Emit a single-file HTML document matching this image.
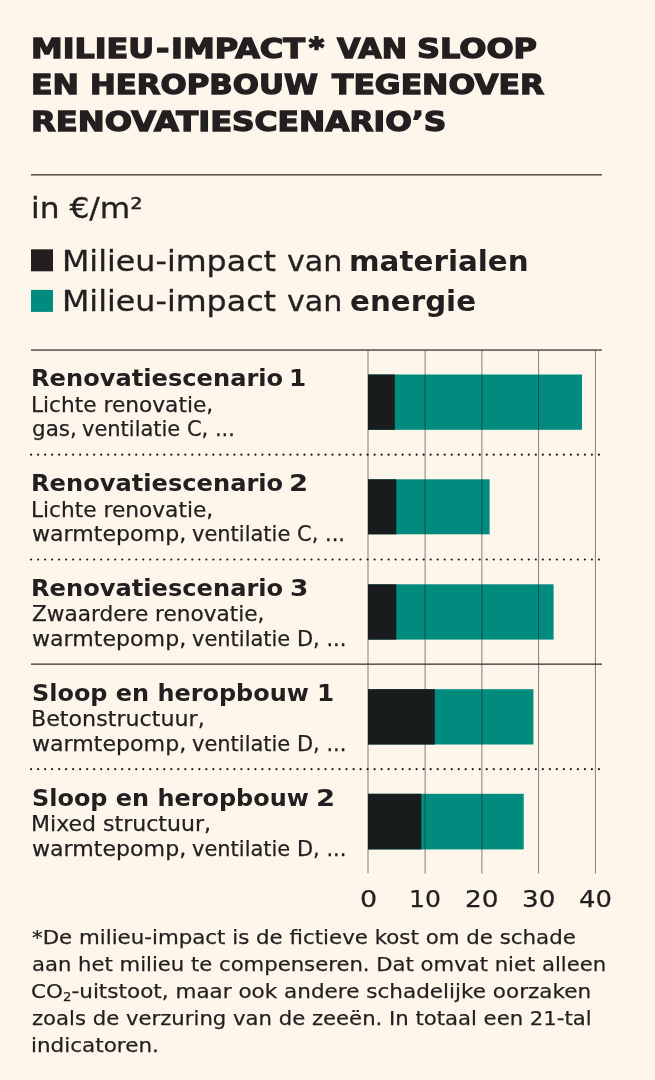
<!DOCTYPE html>
<html lang="nl">
<head>
<meta charset="utf-8">
<title>Milieu-impact van sloop en heropbouw tegenover renovatiescenario's</title>
<style>
html,body{margin:0;padding:0;}
body{width:655px;height:1080px;background:#fef6ea;position:relative;overflow:hidden;color:#231f20;
  font-family:"DejaVu Sans","Liberation Sans",sans-serif;}
h1,h2,p,section,footer,header{margin:0;padding:0;font-size:inherit;font-weight:inherit;display:block;}
.t{position:absolute;white-space:nowrap;line-height:1;margin:0;transform-origin:0 0;font-weight:normal;}
sub{font-size:0.62em;vertical-align:baseline;position:relative;top:0.3em;line-height:0;}
svg{position:absolute;left:0;top:0;}
.h{font-size:27.2px;font-weight:bold;-webkit-text-stroke:1.3px #231f20;}
.hs{font-size:27.2px;font-weight:bold;-webkit-text-stroke:1.8px #231f20;}
.b{font-size:23.7px;font-weight:bold;}
.l{font-size:21.4px;font-weight:normal;-webkit-text-stroke:0.25px #231f20;}
.g{font-size:28.2px;font-weight:normal;-webkit-text-stroke:0.3px #231f20;}
.gb{font-size:28.2px;font-weight:bold;}
.u{font-size:28.6px;font-weight:normal;-webkit-text-stroke:0.3px #231f20;}
.f{font-size:20.0px;font-weight:normal;-webkit-text-stroke:0.25px #231f20;}
.ax{font-size:22.8px;font-weight:normal;-webkit-text-stroke:0.25px #231f20;}
</style>
</head>
<body>
<header><h1>
<span class="t h" style="left:31.24px;top:35.20px;transform:scaleX(1.1699)">MILIEU</span><span class="t h" style="left:155.89px;top:35.20px;transform:scaleX(1.1832)">-</span><span class="t h" style="left:171.23px;top:35.20px;transform:scaleX(1.1746)">IMPACT</span><span class="t hs" style="left:309.02px;top:33.90px;transform:scaleX(1.0541)">*</span>
<span class="t h" style="left:337.25px;top:35.20px;transform:scaleX(1.1129)">VAN</span>
<span class="t h" style="left:416.61px;top:35.20px;transform:scaleX(1.1755)">SLOOP</span>
<span class="t h" style="left:31.25px;top:71.40px;transform:scaleX(1.1611)">EN</span>
<span class="t h" style="left:89.60px;top:71.40px;transform:scaleX(1.1329)">HEROPBOUW</span>
<span class="t h" style="left:331.76px;top:71.40px;transform:scaleX(1.1551)">TEGENOVER</span>
<span class="t h" style="left:31.31px;top:107.70px;transform:scaleX(1.1835)">RENOVATIE</span><span class="t h" style="left:231.94px;top:107.70px;transform:scaleX(1.1528)">SCENARIO’S</span>
</h1></header>
<section class="legend">
<span class="t u" style="left:31.36px;top:194.00px;transform:scaleX(1.0933)">in €/m²</span>
<span class="t g" style="left:62.17px;top:248.00px;transform:scaleX(1.1254)">Milieu-impact</span>
<span class="t g" style="left:286.69px;top:248.00px;transform:scaleX(1.0697)">van</span>
<span class="t gb" style="left:349.25px;top:248.00px;transform:scaleX(1.0423)">materialen</span>
<span class="t g" style="left:62.17px;top:288.40px;transform:scaleX(1.1254)">Milieu-impact</span>
<span class="t g" style="left:286.69px;top:288.40px;transform:scaleX(1.0697)">van</span>
<span class="t gb" style="left:350.30px;top:288.40px;transform:scaleX(1.0405)">energie</span>
</section>
<svg width="655" height="1080" viewBox="0 0 655 1080">
  <rect x="31" y="174.2" width="571" height="1.3" fill="#3c3532"/>
  <rect x="31" y="249.3" width="22" height="22" fill="#231f20"/>
  <rect x="31" y="289.9" width="22" height="22" fill="#008b7f"/>
  <g>
    <rect x="368" y="374.5" width="214" height="55.3" fill="#008b7f"/>
    <rect x="368" y="374.5" width="26.8" height="55.3" fill="#181c1c"/>
    <rect x="368" y="479.3" width="121.6" height="55" fill="#008b7f"/>
    <rect x="368" y="479.3" width="28.3" height="55" fill="#181c1c"/>
    <rect x="368" y="584.3" width="185.6" height="55.3" fill="#008b7f"/>
    <rect x="368" y="584.3" width="28.3" height="55.3" fill="#181c1c"/>
    <rect x="368" y="689.2" width="165.4" height="55.3" fill="#008b7f"/>
    <rect x="368" y="689.2" width="66.8" height="55.3" fill="#181c1c"/>
    <rect x="368" y="793.8" width="155.7" height="55.6" fill="#008b7f"/>
    <rect x="368" y="793.8" width="53.3" height="55.6" fill="#181c1c"/>
  </g>
  <g fill="#1d1d1b" fill-opacity="0.55">
    <rect x="367.5" y="350" width="1" height="523.5"/>
    <rect x="424.6" y="350" width="1" height="523.5"/>
    <rect x="481.4" y="350" width="1" height="523.5"/>
    <rect x="538.1" y="350" width="1" height="523.5"/>
    <rect x="594.9" y="350" width="1" height="523.5"/>
  </g>
  <rect x="31" y="349.4" width="571" height="1.3" fill="#3a3735"/>
  <rect x="31" y="663.5" width="571" height="1.3" fill="#3a3735"/>
  <g stroke="#1d1d1b" stroke-width="2.2" stroke-linecap="round" stroke-dasharray="0 7.01" fill="none">
    <line x1="31.1" y1="454.7" x2="600" y2="454.7"/>
    <line x1="31.1" y1="559.5" x2="600" y2="559.5"/>
    <line x1="31.1" y1="769.2" x2="600" y2="769.2"/>
  </g>
</svg>
<section class="labels">
<span class="t b" style="left:31.11px;top:367.20px;transform:scaleX(1.0190)">Renovatiescenario</span>
<span class="t b" style="left:289.34px;top:367.20px;transform:scaleX(1.0417)">1</span>
<span class="t l" style="left:31.20px;top:393.60px;transform:scaleX(1.0136)">Lichte renovatie,</span>
<span class="t l" style="left:31.77px;top:418.40px;transform:scaleX(1.0048)">gas,</span>
<span class="t l" style="left:81.99px;top:418.40px;transform:scaleX(0.9801)">ventilatie C, ...</span>
<span class="t b" style="left:31.11px;top:472.10px;transform:scaleX(1.0190)">Renovatiescenario</span>
<span class="t b" style="left:289.18px;top:472.10px;transform:scaleX(1.1600)">2</span>
<span class="t l" style="left:31.20px;top:498.50px;transform:scaleX(1.0136)">Lichte renovatie,</span>
<span class="t l" style="left:32.20px;top:523.30px;transform:scaleX(1.0328)">warmtepomp,</span>
<span class="t l" style="left:191.79px;top:523.30px;transform:scaleX(0.9808)">ventilatie C, ...</span>
<span class="t b" style="left:31.11px;top:577.00px;transform:scaleX(1.0190)">Renovatiescenario</span>
<span class="t b" style="left:289.83px;top:577.00px;transform:scaleX(1.1154)">3</span>
<span class="t l" style="left:32.22px;top:603.40px;transform:scaleX(1.0103)">Zwaardere renovatie,</span>
<span class="t l" style="left:32.20px;top:628.20px;transform:scaleX(1.0328)">warmtepomp,</span>
<span class="t l" style="left:191.79px;top:628.20px;transform:scaleX(0.9803)">ventilatie D, ...</span>
<span class="t b" style="left:31.63px;top:681.90px;transform:scaleX(1.0105)">Sloop en heropbouw</span>
<span class="t b" style="left:316.84px;top:681.90px;transform:scaleX(1.0417)">1</span>
<span class="t l" style="left:31.16px;top:708.30px;transform:scaleX(1.0363)">Betonstructuur,</span>
<span class="t l" style="left:32.20px;top:733.10px;transform:scaleX(1.0328)">warmtepomp,</span>
<span class="t l" style="left:191.79px;top:733.10px;transform:scaleX(0.9803)">ventilatie D, ...</span>
<span class="t b" style="left:31.63px;top:786.80px;transform:scaleX(1.0105)">Sloop en heropbouw</span>
<span class="t b" style="left:315.98px;top:786.80px;transform:scaleX(1.1600)">2</span>
<span class="t l" style="left:31.17px;top:813.20px;transform:scaleX(1.0307)">Mixed structuur,</span>
<span class="t l" style="left:32.20px;top:838.00px;transform:scaleX(1.0328)">warmtepomp,</span>
<span class="t l" style="left:191.79px;top:838.00px;transform:scaleX(0.9803)">ventilatie D, ...</span>
</section>
<section class="axis">
<span class="t ax" style="left:359.67px;top:887.60px;transform:scaleX(1.1830)">0</span>
<span class="t ax" style="left:408.89px;top:887.60px;transform:scaleX(1.1010)">10</span>
<span class="t ax" style="left:465.42px;top:887.60px;transform:scaleX(1.1577)">20</span>
<span class="t ax" style="left:522.12px;top:887.60px;transform:scaleX(1.1538)">30</span>
<span class="t ax" style="left:579.41px;top:887.60px;transform:scaleX(1.1327)">40</span>
</section>
<footer><p>
<span class="t f" style="left:31.53px;top:926.70px;transform:scaleX(1.0673)">*De milieu-impact is de fictieve kost om de schade</span>
<span class="t f" style="left:31.81px;top:953.65px;transform:scaleX(1.0583)">aan het milieu te compenseren. Dat omvat niet alleen</span>
<span class="t f" style="left:30.99px;top:980.60px;transform:scaleX(1.0762)">CO<sub>2</sub>-uitstoot, maar ook andere schadelijke oorzaken</span>
<span class="t f" style="left:32.34px;top:1007.55px;transform:scaleX(1.0594)">zoals de verzuring van de zeeën. In totaal een 21-tal</span>
<span class="t f" style="left:31.48px;top:1034.50px;transform:scaleX(1.0748)">indicatoren.</span>
</p></footer>
</body>
</html>
